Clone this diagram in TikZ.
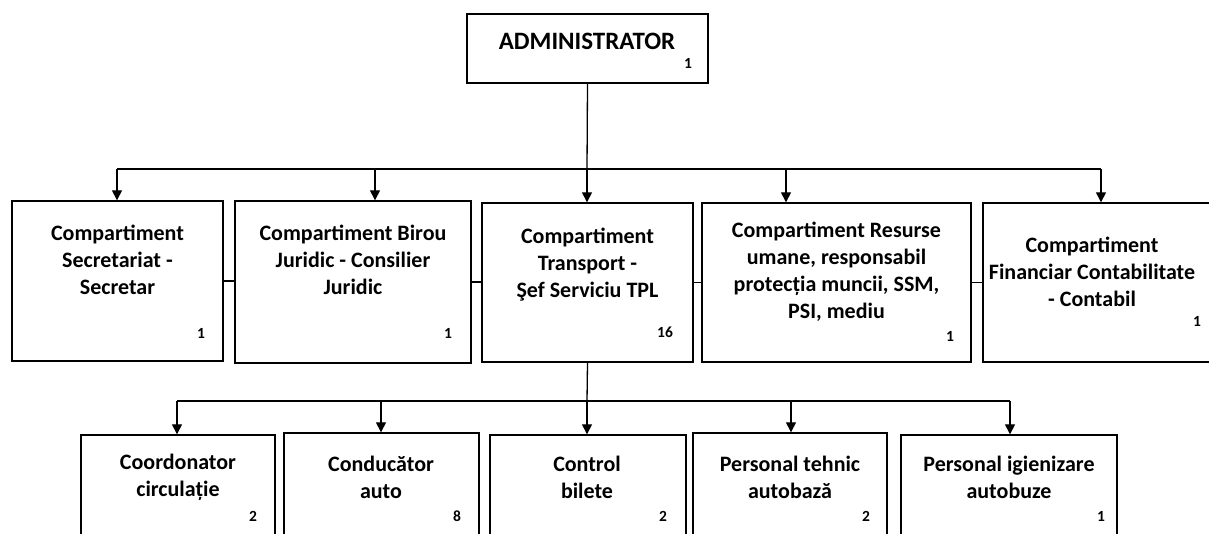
\documentclass[tikz,border=0pt]{standalone}
\usepackage{fontspec}
\setmainfont{Carlito}
\usetikzlibrary{arrows.meta}
\begin{document}
\begin{tikzpicture}[x=1pt,y=-1pt,
  box/.style={draw=black, line width=1.4pt, fill=white, inner sep=0pt},
  txt/.style={font=\fontsize{22}{27}\selectfont\bfseries, align=center, inner sep=0pt},
  bigtxt/.style={font=\fontsize{25}{30}\selectfont\bfseries, align=center, inner sep=0pt},
  num/.style={font=\fontsize{15.5}{17}\selectfont\bfseries, inner sep=0pt},
  conn/.style={line width=1.3pt},
  arr/.style={line width=1.3pt, -{Triangle[width=10pt,length=10pt]}}]
\useasboundingbox (0,0) rectangle (1209,533);
\clip (0,0) rectangle (1209,533);
% boxes
\node[box, minimum width=241pt, minimum height=69pt] (admin) at (587.5,48.5) {};
\node[box, minimum width=211pt, minimum height=160pt] (s1) at (117.5,281) {};
\node[box, minimum width=236pt, minimum height=162pt] (s2) at (353,282) {};
\node[box, minimum width=211pt, minimum height=159pt] (s3) at (587.5,282.5) {};
\node[box, minimum width=269pt, minimum height=159pt] (s4) at (836.5,282.5) {};
\node[box, minimum width=237pt, minimum height=159pt] (s5) at (1101.5,282.5) {};
\node[box, minimum width=194pt, minimum height=115pt] (b1) at (178,492.5) {};
\node[box, minimum width=195pt, minimum height=117pt] (b2) at (381.5,491.5) {};
\node[box, minimum width=196pt, minimum height=115pt] (b3) at (588,492.5) {};
\node[box, minimum width=194pt, minimum height=117pt] (b4) at (790,491.5) {};
\node[box, minimum width=216pt, minimum height=115pt] (b5) at (1009,492.5) {};
% texts
\node[bigtxt] (tadmin) at (587,41) {ADMINISTRATOR};
\node[txt] (ts1) at (117.5,260) {Compartiment\\Secretariat -\\Secretar};
\node[txt] (ts2) at (353,260) {Compartiment Birou\\Juridic - Consilier\\Juridic};
\node[txt] (ts3) at (587.5,265) {Compartiment\\Transport -\\Şef Serviciu TPL};
\node[txt] (ts4) at (836.5,272) {Compartiment Resurse\\umane, responsabil\\protecția muncii, SSM,\\PSI, mediu};
\node[txt] (ts5) at (1092,272) {Compartiment\\Financiar Contabilitate\\- Contabil};
\node[txt] (tb1) at (178,477) {Coordonator\\circulație};
\node[txt] (tb2) at (381,477) {Conducător\\auto};
\node[txt] (tb3) at (587,477) {Control\\bilete};
\node[txt] (tb4) at (790,477) {Personal tehnic\\autobază};
\node[txt] (tb5) at (1009,477) {Personal igienizare\\autobuze};
% numbers
\node[num] (nadmin) at (688,63) {1};
\node[num] (ns1) at (201,333) {1};
\node[num] (ns2) at (448,333) {1};
\node[num] (ns3) at (665,332) {16};
\node[num] (ns4) at (950,336) {1};
\node[num] (ns5) at (1197,321) {1};
\node[num] (nb1) at (253,516) {2};
\node[num] (nb2) at (457,516) {8};
\node[num] (nb3) at (663,516) {2};
\node[num] (nb4) at (866,516) {2};
\node[num] (nb5) at (1101,516) {1};
% bus coordinates
\coordinate (t1) at (117,169);
\coordinate (t2) at (375,169);
\coordinate (t3) at (587,169);
\coordinate (t4) at (786,169);
\coordinate (t5) at (1101,169);
\coordinate (u1) at (177,401);
\coordinate (u2) at (381,401);
\coordinate (u3) at (587,401);
\coordinate (u4) at (791,401);
\coordinate (u5) at (1010,401);
% connectors
\draw[conn] (admin.south) -- (t3);
\draw[conn] (t1) -- (t5);
\draw[arr] (t1) -- (t1 |- s1.north);
\draw[arr] (t2) -- (t2 |- s2.north);
\draw[arr] (t3) -- (t3 |- s3.north);
\draw[arr] (t4) -- (t4 |- s4.north);
\draw[arr] (t5) -- (t5 |- s5.north);
\draw[conn] (s1.east) -- (s1.east -| s2.west);
\draw[conn] (s2.east) -- (s2.east -| s3.west);
\draw[conn] (s3.east) -- (s3.east -| s4.west);
\draw[conn] (s4.east) -- (s4.east -| s5.west);
\draw[conn] (s3.south) -- (u3);
\draw[conn] (u1) -- (u5);
\draw[arr] (u1) -- (u1 |- b1.north);
\draw[arr] (u2) -- (u2 |- b2.north);
\draw[arr] (u3) -- (u3 |- b3.north);
\draw[arr] (u4) -- (u4 |- b4.north);
\draw[arr] (u5) -- (u5 |- b5.north);
\end{tikzpicture}
\end{document}
